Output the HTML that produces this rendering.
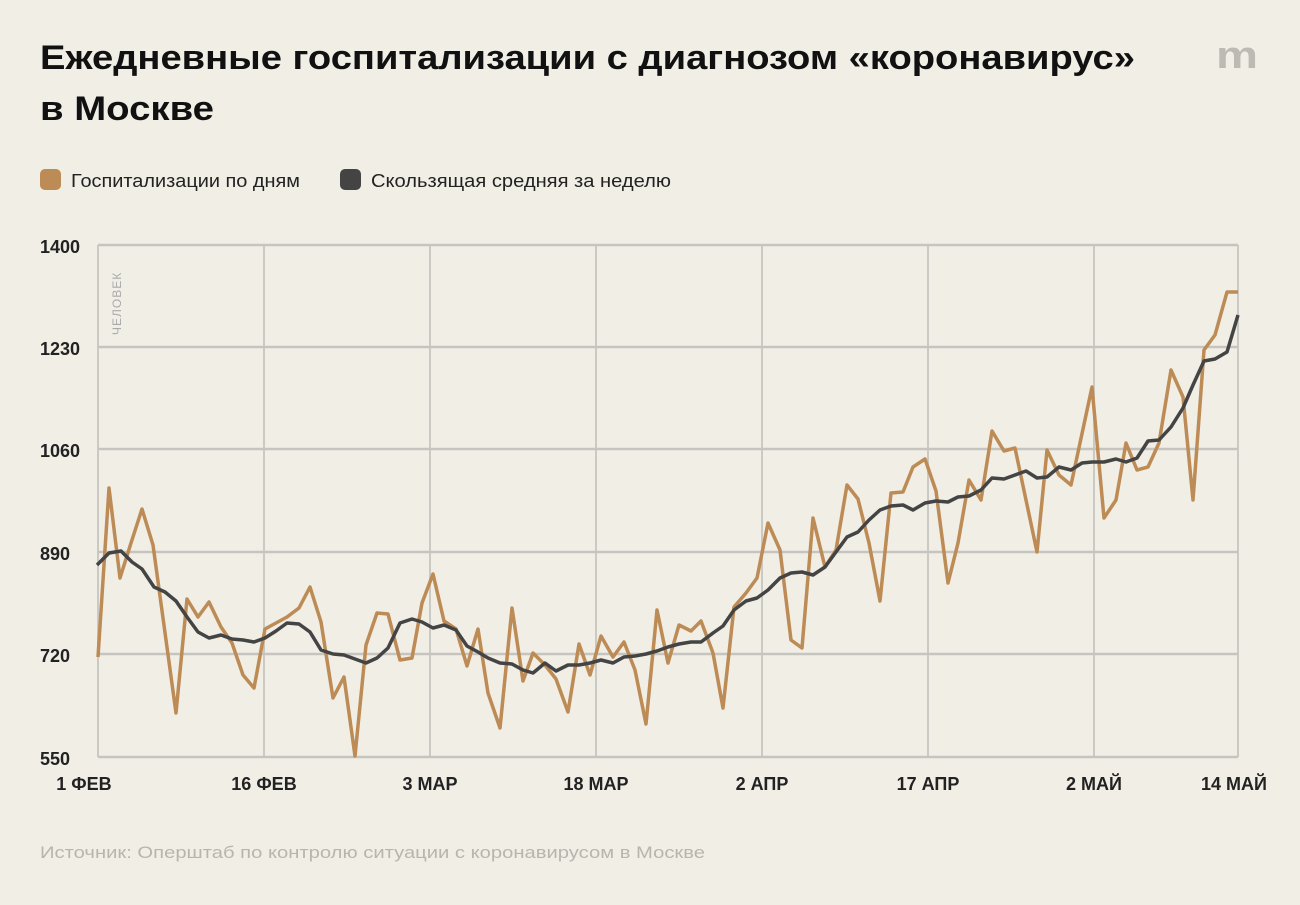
<!DOCTYPE html>
<html><head><meta charset="utf-8"><style>
body{margin:0;background:#f1eee6;}
svg text{font-family:"Liberation Sans",sans-serif;}
</style></head><body>
<svg width="1300" height="900" xmlns="http://www.w3.org/2000/svg">
<rect width="1300" height="900" fill="#f1eee6"/>
<text x="40" y="69" font-size="34" font-weight="bold" fill="#111" textLength="1095" lengthAdjust="spacingAndGlyphs">Ежедневные госпитализации с диагнозом «коронавирус»</text>
<text x="40" y="120" font-size="34" font-weight="bold" fill="#111" textLength="174" lengthAdjust="spacingAndGlyphs">в Москве</text>
<text x="1216" y="68" font-size="38" font-weight="bold" fill="#bdbab3" font-family="Liberation Serif" textLength="42" lengthAdjust="spacingAndGlyphs">m</text>
<rect x="40" y="169" width="21" height="21" rx="5" fill="#bd8b55"/>
<text x="71" y="187" font-size="18" fill="#222" textLength="229" lengthAdjust="spacingAndGlyphs">Госпитализации по дням</text>
<rect x="340" y="169" width="21" height="21" rx="5" fill="#444"/>
<text x="371" y="187" font-size="18" fill="#222" textLength="300" lengthAdjust="spacingAndGlyphs">Скользящая средняя за неделю</text>
<g stroke="#cbc9c4" stroke-width="2">
<line x1="98" y1="245" x2="98" y2="757"/><line x1="264" y1="245" x2="264" y2="757"/><line x1="430" y1="245" x2="430" y2="757"/><line x1="596" y1="245" x2="596" y2="757"/><line x1="762" y1="245" x2="762" y2="757"/><line x1="928" y1="245" x2="928" y2="757"/><line x1="1094" y1="245" x2="1094" y2="757"/><line x1="1238" y1="245" x2="1238" y2="757"/>
</g>
<g stroke="#c6c4bf" stroke-width="2.5">
<line x1="98" y1="245" x2="1238" y2="245"/><line x1="98" y1="347" x2="1238" y2="347"/><line x1="98" y1="449" x2="1238" y2="449"/><line x1="98" y1="552" x2="1238" y2="552"/><line x1="98" y1="654" x2="1238" y2="654"/><line x1="98" y1="757" x2="1238" y2="757"/>
</g>
<g id="ticks" stroke="#c6c4bf" stroke-width="1.5"></g>
<g font-size="18" fill="#222" font-weight="bold">
<text x="40" y="253">1400</text><text x="40" y="355">1230</text><text x="40" y="457">1060</text><text x="40" y="560">890</text><text x="40" y="662">720</text><text x="40" y="765">550</text>
</g>
<text transform="translate(121,335) rotate(-90)" font-size="12" fill="#aaa" letter-spacing="1">ЧЕЛОВЕК</text>
<g font-size="18" fill="#222" font-weight="bold" text-anchor="middle">
<text x="84" y="790">1 ФЕВ</text><text x="264" y="790">16 ФЕВ</text><text x="430" y="790">3 МАР</text><text x="596" y="790">18 МАР</text><text x="762" y="790">2 АПР</text><text x="928" y="790">17 АПР</text><text x="1094" y="790">2 МАЙ</text><text x="1234" y="790">14 МАЙ</text>
</g>
<text x="40" y="858" font-size="17" fill="#b8b5ae" textLength="665" lengthAdjust="spacingAndGlyphs">Источник: Оперштаб по контролю ситуации с коронавирусом в Москве</text>
<polyline fill="none" stroke="#bd8b55" stroke-width="3.5" stroke-linejoin="round" points="98,657 109,488 120,578 131,543 142,509 153,545 176,713 187,599 198,617 209,602 221,627 232,643 243,675 254,688 265,629 276,623 287,617 299,608 310,587 321,622 333,698 344,677 355,756 366,645 377,613 388,614 400,660 412,658 422,603 433,574 444,621 456,629 467,666 478,629 488,693 500,728 512,608 523,681 533,653 545,665 556,679 568,712 579,644 590,675 601,636 613,657 624,642 635,670 646,724 657,610 668,663 679,625 691,631 701,621 713,653 723,708 734,607 746,593 757,578 768,523 780,550 791,640 802,648 813,518 825,567 836,550 847,485 858,499 869,543 880,601 891,493 903,492 913,467 925,459 936,491 948,583 958,543 969,480 981,500 992,431 1004,451 1015,448 1026,500 1037,552 1047,450 1059,475 1071,485 1092,387 1104,518 1116,500 1126,443 1137,470 1148,467 1159,443 1171,370 1183,397 1193,500 1204,350 1215,335 1227,292 1238,292"/>
<polyline fill="none" stroke="#444" stroke-width="3.5" stroke-linejoin="round" points="97,565 109,553 121,551 132,562 142,569 154,587 165,592 176,601 187,617 198,632 209,638 221,635 232,639 243,640 254,642 265,638 276,631 287,623 299,624 310,632 321,650 333,654 344,655 355,659 366,663 377,658 388,648 400,623 412,619 422,622 433,628 444,625 456,630 467,646 478,652 488,658 500,663 512,664 523,670 533,673 545,663 556,671 568,665 579,665 590,663 601,660 613,663 624,657 635,656 646,654 657,651 668,647 679,644 691,642 701,642 713,633 723,626 734,610 746,601 757,598 768,590 780,578 791,573 802,572 813,575 825,567 836,552 847,537 858,532 869,520 880,510 891,506 903,505 913,510 925,503 936,501 948,502 958,497 969,496 981,490 992,478 1004,479 1015,475 1026,471 1037,478 1047,477 1059,467 1071,470 1082,463 1092,462 1104,462 1116,459 1126,462 1137,458 1148,441 1159,440 1171,427 1183,408 1193,385 1204,361 1215,359 1227,352 1238,315"/>
<script>
var g=document.getElementById('ticks'),s='';
for(var i=0;i<=102;i++){var x=98+i*1140/102;s+='<line x1="'+x+'" y1="751" x2="'+x+'" y2="757"/>';}
g.innerHTML=s;
</script>
</svg>
</body></html>
